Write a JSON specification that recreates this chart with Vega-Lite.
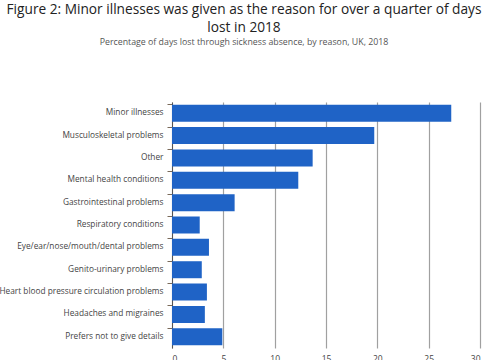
{
  "$schema": "https://vega.github.io/schema/vega-lite/v6.json",
  "autosize": "none",
  "width": 308,
  "height": 246,
  "padding": {"left": 172, "top": 102, "right": 5, "bottom": 12},
  "background": "white",
  "title": {
    "text": ["Figure 2: Minor illnesses was given as the reason for over a quarter of days", "lost in 2018"],
    "subtitle": "Percentage of days lost through sickness absence, by reason, UK, 2018",
    "font": "Open Sans",
    "fontSize": 13.7,
    "fontWeight": "normal",
    "color": "#222222",
    "lineHeight": 18,
    "subtitleFont": "Open Sans",
    "subtitleFontSize": 8.8,
    "subtitleColor": "#555555",
    "subtitlePadding": 4,
    "anchor": "middle",
    "frame": "group",
    "offset": 55,
    "dx": -82
  },
  "data": {
    "values": [
      {"reason": "Minor illnesses", "pct": 27.2},
      {"reason": "Musculoskeletal problems", "pct": 19.7},
      {"reason": "Other", "pct": 13.7},
      {"reason": "Mental health conditions", "pct": 12.3},
      {"reason": "Gastrointestinal problems", "pct": 6.1},
      {"reason": "Respiratory conditions", "pct": 2.7},
      {"reason": "Eye/ear/nose/mouth/dental problems", "pct": 3.6},
      {"reason": "Genito-urinary problems", "pct": 2.9},
      {"reason": "Heart blood pressure circulation problems", "pct": 3.4},
      {"reason": "Headaches and migraines", "pct": 3.2},
      {"reason": "Prefers not to give details", "pct": 4.9}
    ]
  },
  "mark": {"type": "bar", "color": "#1f63c6"},
  "encoding": {
    "y": {
      "field": "reason",
      "type": "nominal",
      "sort": null,
      "title": null,
      "scale": {"paddingInner": 0.24, "paddingOuter": 0.12},
      "axis": {
        "labelFont": "Open Sans",
        "labelFontSize": 8.3,
        "labelColor": "#444444",
        "labelPadding": 4,
        "labelLimit": 300,
        "bandPosition": 0,
        "tickColor": "#7a6a5a",
        "tickSize": 5,
        "domainColor": "#555555",
        "domainWidth": 1,
        "grid": false
      }
    },
    "x": {
      "field": "pct",
      "type": "quantitative",
      "title": null,
      "scale": {"domain": [0, 30], "nice": false},
      "axis": {
        "values": [0, 5, 10, 15, 20, 25, 30],
        "labelFont": "Open Sans",
        "labelFontSize": 8.5,
        "labelColor": "#444444",
        "grid": true,
        "gridColor": "#a0a0a0",
        "gridWidth": 1.2,
        "domain": false,
        "ticks": false,
        "labelPadding": 6
      }
    }
  },
  "config": {"view": {"stroke": null}}
}
